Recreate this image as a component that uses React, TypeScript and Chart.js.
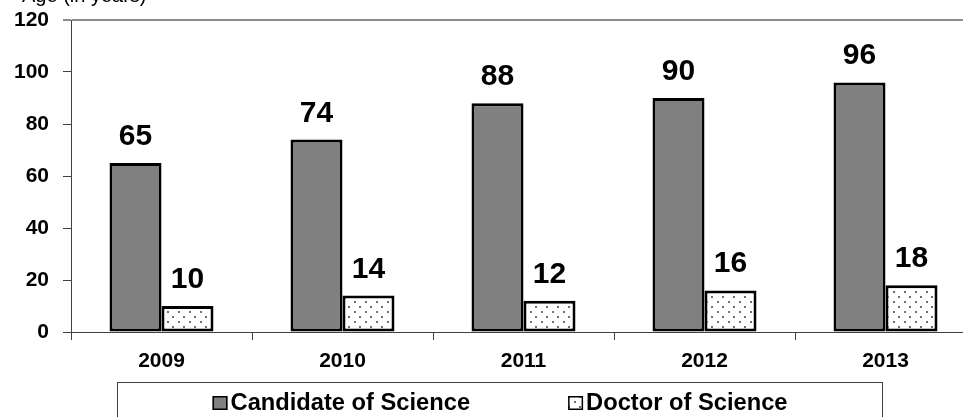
import React, { useEffect, useRef } from "react";
import { Chart, registerables } from "chart.js";

Chart.register(...registerables);

const categories = ["2009", "2010", "2011", "2012", "2013"];
const candidateValues = [65, 74, 88, 90, 96];
const doctorValues = [10, 14, 12, 16, 18];
const seriesLabels = ["Candidate of Science", "Doctor of Science"];
const yTicks = [0, 20, 40, 60, 80, 100, 120];
const topTitle = "Age (in years)";

const FONT = '"Liberation Sans", Arial, sans-serif';

function makePattern(): CanvasPattern | string {
  const tile = document.createElement("canvas");
  tile.width = 11;
  tile.height = 10;
  const c = tile.getContext("2d");
  if (!c) return "#fff";
  c.fillStyle = "#ffffff";
  c.fillRect(0, 0, 11, 10);
  c.fillStyle = "#707070";
  c.fillRect(2, 1, 2, 2);
  c.fillRect(7, 6, 2, 2);
  return c.createPattern(tile, "repeat") || "#fff";
}

const valueLabelPlugin = {
  id: "valueLabels",
  afterDatasetsDraw(chart: any) {
    const ctx = chart.ctx;
    ctx.save();
    ctx.font = `bold 30px ${FONT}`;
    ctx.fillStyle = "#000";
    ctx.textAlign = "center";
    ctx.textBaseline = "alphabetic";
    chart.data.datasets.forEach((ds: any, di: number) => {
      const meta = chart.getDatasetMeta(di);
      meta.data.forEach((el: any, i: number) => {
        ctx.fillText(String(ds.data[i]), el.x, el.y - 18);
      });
    });
    ctx.restore();
  },
};

const legendBoxPlugin = {
  id: "legendBox",
  afterDraw(chart: any) {
    const ctx = chart.ctx;
    ctx.save();
    ctx.strokeStyle = "#404040";
    ctx.lineWidth = 1;
    ctx.strokeRect(117.5, 382.5, 765, 80);
    ctx.font = `bold 23.7px ${FONT}`;
    const sq = 15;
    const gapSqText = 3;
    const gapItems = 98;
    const widths = chart.data.datasets.map((ds: any) => ctx.measureText(ds.label).width);
    const total = widths.reduce((a: number, w: number) => a + sq + gapSqText + w, 0) + gapItems * (widths.length - 1);
    let x = 500 - total / 2;
    const baseline = 410;
    chart.data.datasets.forEach((ds: any, i: number) => {
      ctx.fillStyle = ds.backgroundColor;
      ctx.fillRect(x, baseline - 14, sq, 14);
      ctx.strokeStyle = "#000";
      ctx.lineWidth = 1.5;
      ctx.strokeRect(x + 0.75, baseline - 14 + 0.75, sq - 1.5, 14 - 1.5);
      ctx.fillStyle = "#000";
      ctx.textAlign = "left";
      ctx.textBaseline = "alphabetic";
      ctx.fillText(ds.label, x + sq + gapSqText, baseline);
      x += sq + gapSqText + widths[i] + gapItems;
    });
    ctx.font = `20px ${FONT}`;
    ctx.fillStyle = "#000";
    ctx.textAlign = "left";
    ctx.textBaseline = "alphabetic";
    ctx.fillText(topTitle, 22, 2);
    ctx.restore();
  },
};

export default function App() {
  const ref = useRef<HTMLCanvasElement | null>(null);
  useEffect(() => {
    if (!ref.current) return;
    const pattern = makePattern();
    const chart = new Chart(ref.current, {
      type: "bar",
      data: {
        labels: categories,
        datasets: [
          {
            label: seriesLabels[0],
            data: candidateValues,
            backgroundColor: "#808080",
            borderColor: "#000",
            borderWidth: 3,
            borderSkipped: false,
            categoryPercentage: 0.5746,
            barPercentage: 1,
          },
          {
            label: seriesLabels[1],
            data: doctorValues,
            backgroundColor: pattern as any,
            borderColor: "#000",
            borderWidth: 3,
            borderSkipped: false,
            categoryPercentage: 0.5746,
            barPercentage: 1,
          },
        ],
      },
      options: {
        responsive: false,
        animation: false,
        layout: { padding: { top: 20, right: 24, left: 0, bottom: 0 } },
        plugins: { legend: { display: false }, tooltip: { enabled: false } },
        scales: {
          x: {
            offset: true,
            grid: {
              display: true,
              drawOnChartArea: false,
              drawTicks: true,
              tickLength: 8,
              color: "#404040",
              offset: true,
            },
            border: { color: "#404040", width: 1 },
            ticks: {
              color: "#000",
              font: { family: FONT, size: 21, weight: "bold" },
              padding: 9,
              maxRotation: 0,
            },
            afterFit: (s: any) => {
              s.height = 85;
            },
          },
          y: {
            min: 0,
            max: 120,
            afterBuildTicks: (s: any) => {
              s.ticks = yTicks.map((v) => ({ value: v }));
            },
            grid: {
              drawOnChartArea: true,
              drawTicks: true,
              tickLength: 8,
              color: (c: any) => (c.tick && c.tick.value === 120 ? "#8c8c8c" : "rgba(0,0,0,0)"),
              lineWidth: (c: any) => (c.tick && c.tick.value === 120 ? 2 : 1),
              tickColor: (c: any) => (c.tick && c.tick.value === 120 ? "#8c8c8c" : "#404040"),
            },
            border: { color: "#404040", width: 1 },
            ticks: {
              color: "#000",
              font: { family: FONT, size: 21, weight: "bold", lineHeight: 0.4 },
              padding: 14,
            },
            afterFit: (s: any) => {
              s.width = 71;
            },
          },
        },
      },
      plugins: [valueLabelPlugin, legendBoxPlugin],
    });
    return () => chart.destroy();
  }, []);
  return (
    <div
      style={{
        position: "absolute",
        left: 0,
        top: 0,
        width: 963,
        height: 417,
        overflow: "hidden",
        background: "#fff",
      }}
    >
      <canvas ref={ref} width={1000} height={417} style={{ display: "block", width: 1000, height: 417 }} />
    </div>
  );
}
